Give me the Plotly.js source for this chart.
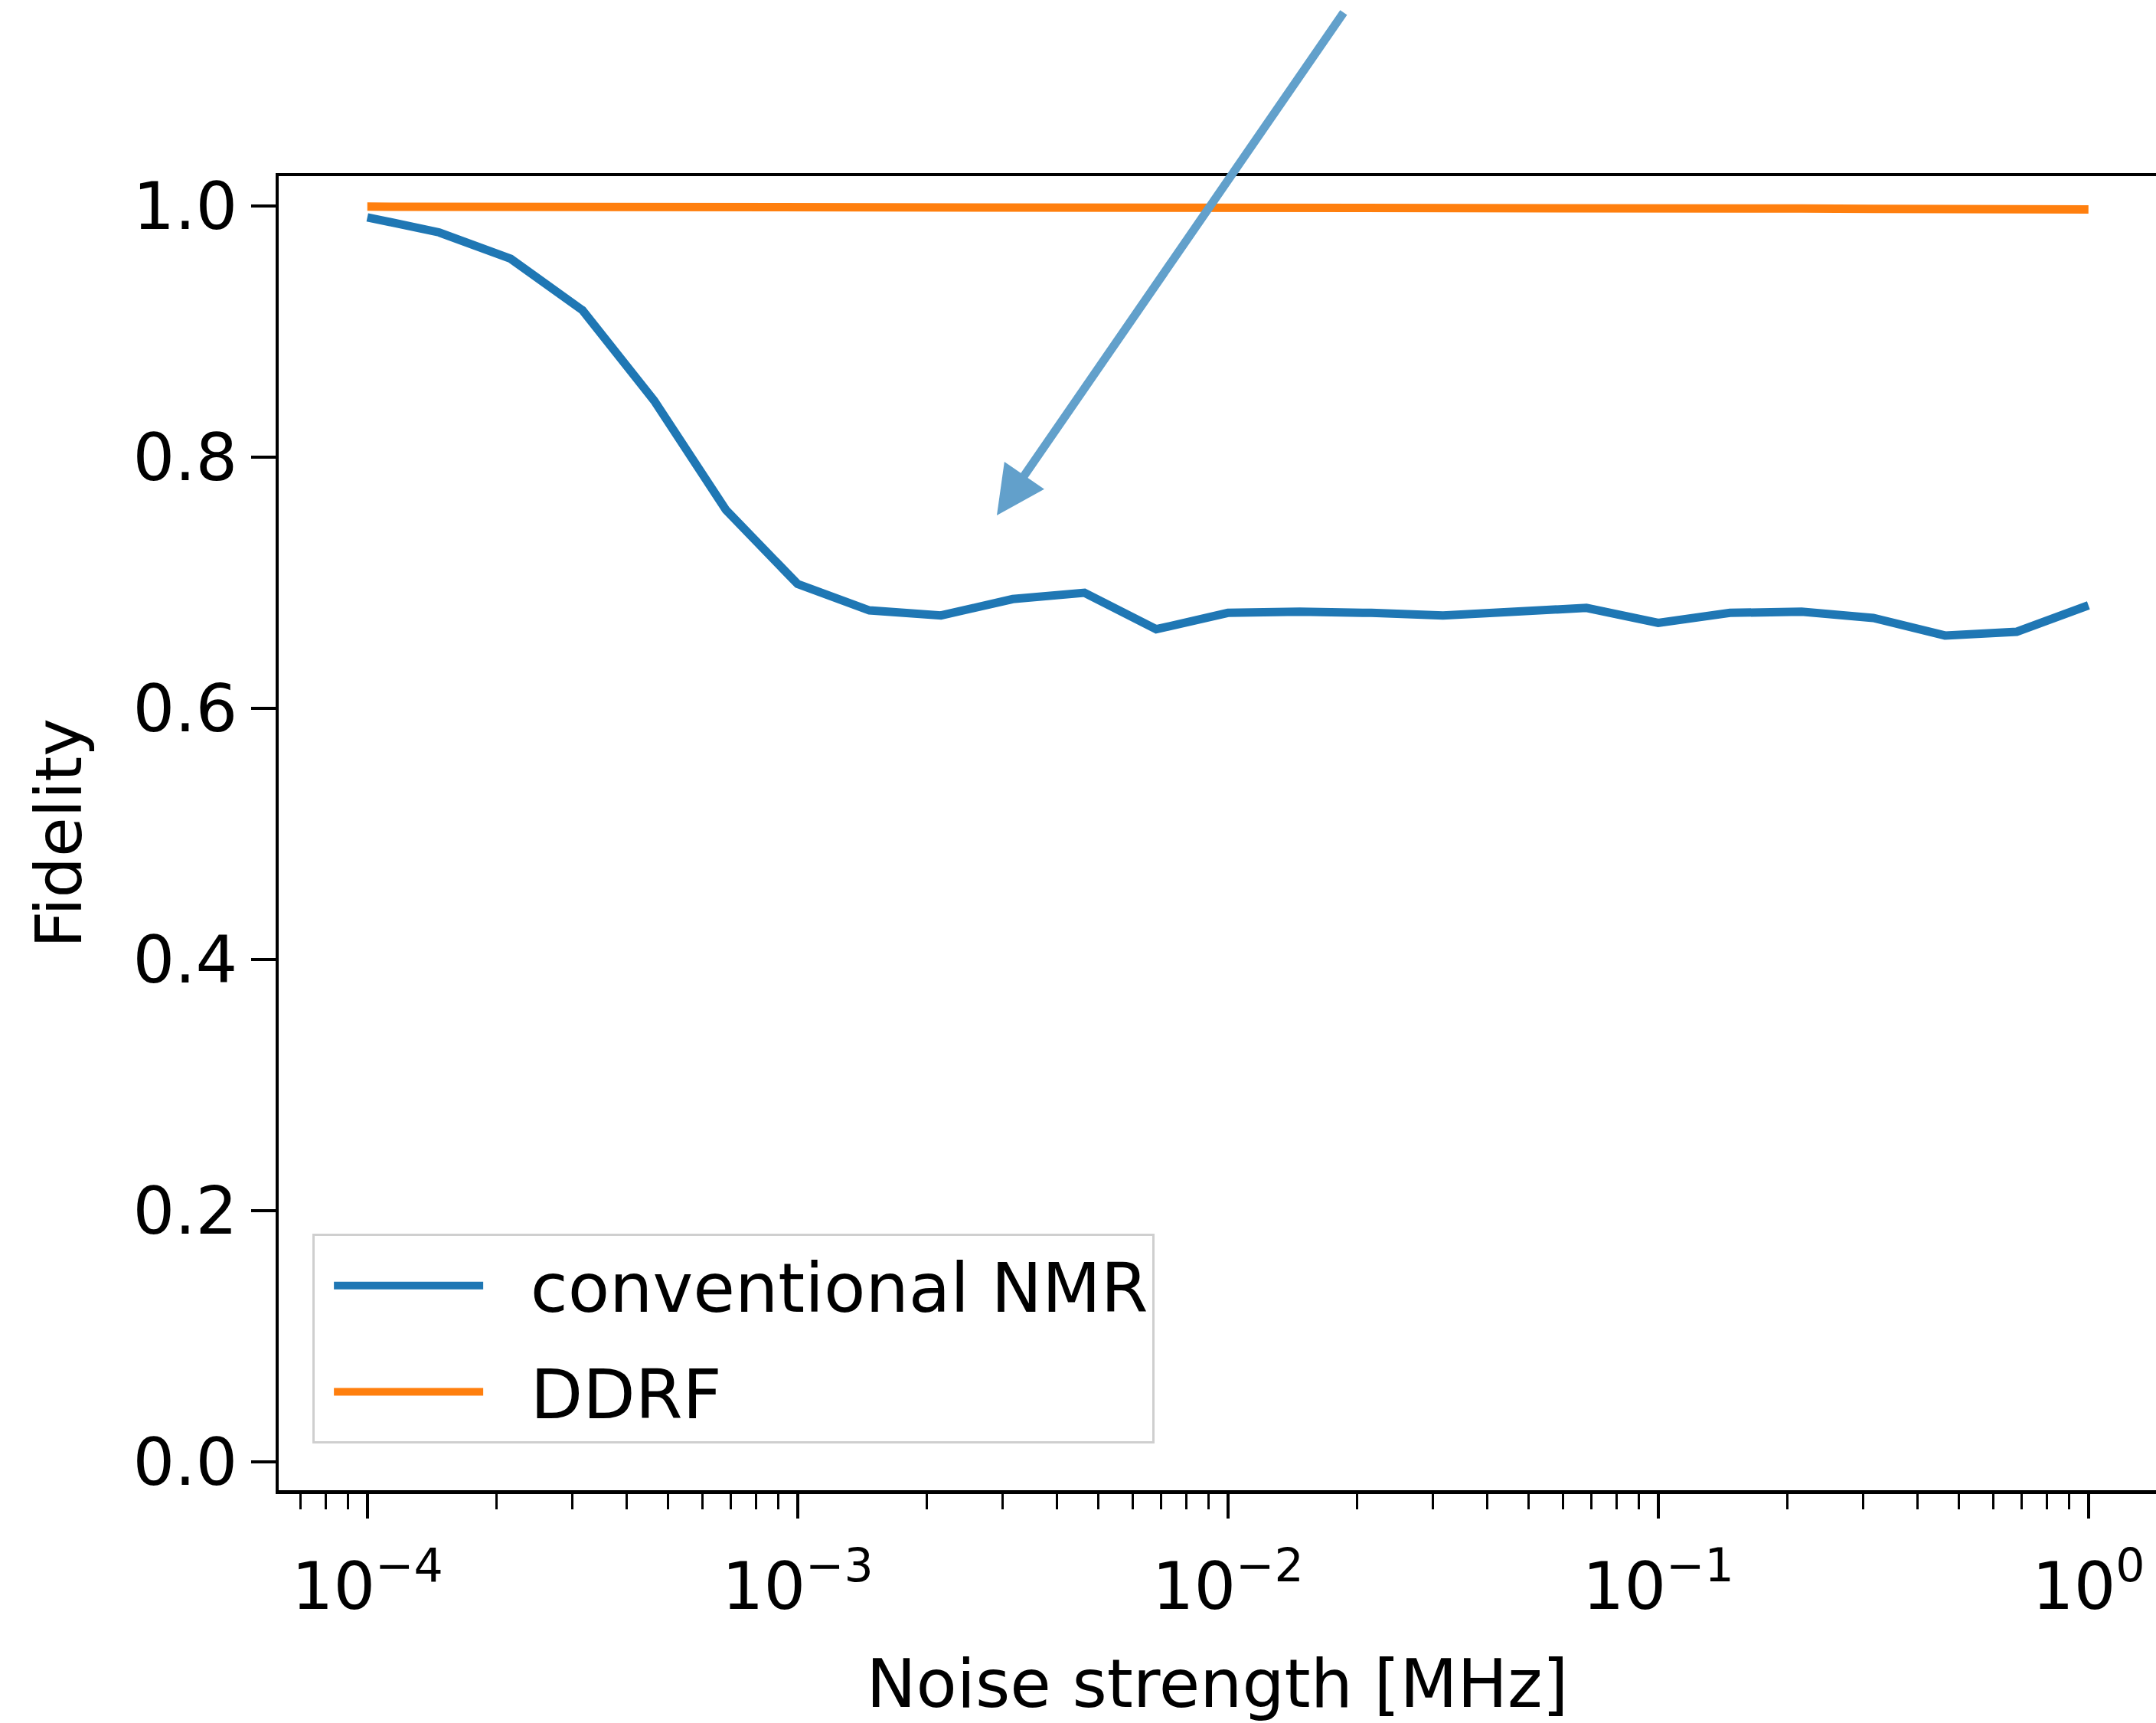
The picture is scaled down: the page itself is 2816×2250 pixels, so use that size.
<!DOCTYPE html>
<html>
<head>
<meta charset="utf-8">
<script src="https://cdn.plot.ly/plotly-3.0.1.min.js"></script>
<style>
  html, body { margin: 0; padding: 0; background: #ffffff; }
  #chart { width: 2816px; height: 2250px; }
</style>
</head>
<body>
<div id="chart"></div>
<script>
// ---- data ----
const noiseStrength = [
  1.0e-4, 1.468e-4, 2.154e-4, 3.162e-4, 4.642e-4, 6.813e-4,
  1.0e-3, 1.468e-3, 2.154e-3, 3.162e-3, 4.642e-3, 6.813e-3,
  1.0e-2, 1.468e-2, 2.154e-2, 3.162e-2, 4.642e-2, 6.813e-2,
  1.0e-1, 1.468e-1, 2.154e-1, 3.162e-1, 4.642e-1, 6.813e-1,
  1.0
];
const fidelityNMR = [
  0.991, 0.979, 0.958, 0.917, 0.845, 0.758,
  0.699, 0.678, 0.674, 0.687, 0.692, 0.663,
  0.676, 0.677, 0.676, 0.674, 0.677, 0.680,
  0.668, 0.676, 0.677, 0.672, 0.658, 0.661,
  0.682
];
const fidelityDDRF = [
  0.9995, 0.9995, 0.9995, 0.9995, 0.9995, 0.9995,
  0.9995, 0.9995, 0.9995, 0.9995, 0.9994, 0.9993,
  0.9992, 0.9991, 0.9990, 0.9989, 0.9988, 0.9986,
  0.9984, 0.9982, 0.9980, 0.9978, 0.9976, 0.9974,
  0.9972
];
const seriesNames = ["conventional NMR", "DDRF"];
const xTickVals = [1e-4, 1e-3, 1e-2, 1e-1, 1];
const xTickText = ["10<sup>\u22124</sup>", "10<sup>\u22123</sup>", "10<sup>\u22122</sup>", "10<sup>\u22121</sup>", "10<sup>0</sup>"];
const yTickVals = [0.0, 0.2, 0.4, 0.6, 0.8, 1.0];
const yTickText = ["0.0", "0.2", "0.4", "0.6", "0.8", "1.0"];
const xTitle = "Noise strength [MHz]";
const yTitle = "Fidelity";

// ---- styling ----
const FONT = "DejaVu Sans, Liberation Sans, sans-serif";
const INK = "#000000";
const LEGEND_PAD = "\u00a0\u00a0"; // visual gap between legend line and label

const traces = [
  {
    x: noiseStrength, y: fidelityNMR, name: LEGEND_PAD + seriesNames[0], legendgroup: "g1",
    type: "scatter", mode: "lines",
    line: { color: "#1f77b4", width: 11 }
  },
  {
    x: noiseStrength, y: fidelityDDRF, name: LEGEND_PAD + seriesNames[1], legendgroup: "g2",
    type: "scatter", mode: "lines",
    line: { color: "#ff7f0e", width: 11 }
  }
];

const layout = {
  width: 2816, height: 2250,
  margin: { l: 364, r: 0, t: 230, b: 304, pad: 0 },
  paper_bgcolor: "#ffffff", plot_bgcolor: "#ffffff",
  font: { family: FONT, size: 84, color: INK },
  showlegend: true,
  legend: {
    x: 0.018, y: 0.195, xanchor: "left", yanchor: "top",
    bgcolor: "rgba(255,255,255,0.8)", bordercolor: "#cfcfcf", borderwidth: 3,
    font: { family: FONT, size: 89, color: INK },
    itemwidth: 195, indentation: 20, tracegroupgap: 20
  },
  xaxis: {
    type: "log",
    range: [-4.206, 0.157],
    tickmode: "array", tickvals: xTickVals, ticktext: xTickText,
    ticks: "outside", ticklen: 32, tickwidth: 4, tickcolor: INK,
    minor: { ticks: "outside", ticklen: 20, tickwidth: 3, tickcolor: INK, dtick: "D1", showgrid: false },
    showline: true, linewidth: 4.5, linecolor: INK, mirror: true,
    showgrid: false, zeroline: false,
    tickfont: { family: FONT, size: 86, color: INK },
    ticklabelstandoff: 15,
    title: { text: xTitle, font: { family: FONT, size: 87, color: INK }, standoff: 65 },
    automargin: false
  },
  yaxis: {
    range: [-0.0226, 1.0238],
    tickmode: "array", tickvals: yTickVals, ticktext: yTickText,
    ticks: "outside", ticklen: 32, tickwidth: 4, tickcolor: INK,
    showline: true, linewidth: 4.5, linecolor: INK, mirror: false,
    showgrid: false, zeroline: false,
    tickfont: { family: FONT, size: 86, color: INK },
    ticklabelstandoff: 0,
    title: { text: yTitle, font: { family: FONT, size: 84, color: INK }, standoff: 40 },
    automargin: false
  },
  annotations: [
    {
      xref: "x", yref: "y",
      x: -2.537, y: 0.7537,
      ax: 454, ay: -658,
      text: "", showarrow: true,
      arrowhead: 2, arrowsize: 1.15, arrowwidth: 11, arrowcolor: "#62a0cb"
    }
  ]
};

Plotly.newPlot("chart", traces, layout, { staticPlot: true, displayModeBar: false });
</script>
</body>
</html>
